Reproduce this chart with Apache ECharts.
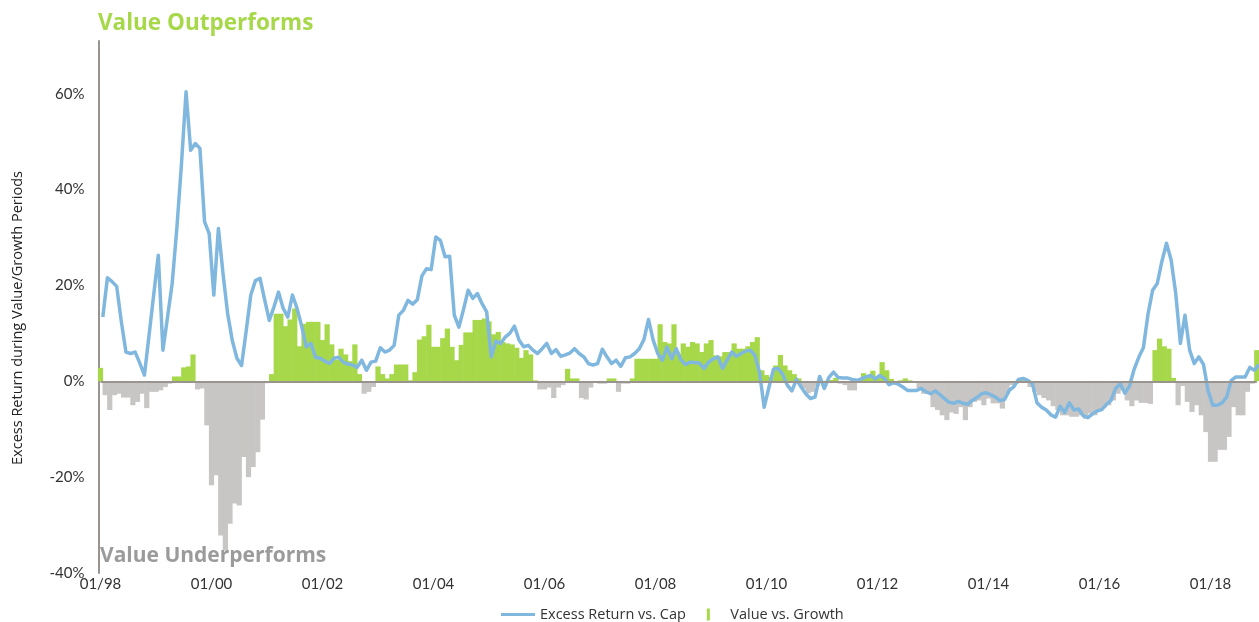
<!DOCTYPE html>
<html><head><meta charset="utf-8">
<script src="https://cdn.jsdelivr.net/npm/echarts@6/dist/echarts.min.js"></script>
<style>html,body{margin:0;padding:0;background:#fff;} #c{width:1259px;height:622px;}</style>
</head><body><div id="c"></div>
<script>
// ---- data ----
const startYear = 1998;
const monthCount = 251;           // 01/1998 .. 11/2018
const tickEvery = 24;             // label every two years
const yTickValues = [-40, -20, 0, 20, 40, 60];

// Value vs. Growth (bars), monthly, %
const valueVsGrowth = [
  2.8, -2.9, -6.0, -2.9, -2.6, -3.4, -3.4, -5.0, -4.3, -2.6, -5.6, -2.2,      // 1998
  -2.2, -1.9, -1.2, -0.5, 1.0, 1.0, 2.9, 3.1, 5.6, -1.7, -1.5, -9.2,          // 1999
  -21.7, -19.6, -32.2, -35.3, -29.7, -25.5, -25.9, -15.8, -20.0, -17.9, -14.8, -8.0, // 2000
  -0.4, 1.5, 14.1, 14.1, 11.5, 12.9, 15.2, 7.3, 12.0, 12.4, 12.4, 12.4,       // 2001
  8.6, 11.9, 7.7, 4.5, 6.8, 5.6, 4.2, 7.7, 1.5, -2.6, -2.2, -1.2,             // 2002
  3.1, 1.5, 0.6, 1.5, 3.5, 3.5, 3.5, 0.2, 1.9, 8.7, 9.4, 11.8,                // 2003
  7.2, 7.2, 9.0, 11.0, 7.2, 4.4, 7.6, 10.2, 10.2, 12.8, 12.8, 13.1,           // 2004
  12.5, 9.8, 10.3, 8.2, 7.9, 7.7, 7.0, 4.9, 6.5, 5.6, 0.2, -1.7,              // 2005
  -1.7, -1.3, -3.5, -1.3, -0.8, 2.6, 0.6, 0.6, -3.5, -3.8, -1.3, 0.0,         // 2006
  -0.5, -0.5, 0.6, 0.6, -2.2, -0.5, -0.5, 0.6, 4.7, 4.7, 4.7, 4.7,            // 2007
  4.7, 11.9, 8.2, 7.9, 11.9, 5.7, 7.9, 7.2, 8.2, 7.9, 6.1, 7.9,               // 2008
  8.6, 5.4, 5.2, 6.1, 6.1, 7.9, 6.8, 6.8, 7.3, 8.2, 9.2, 2.3,                 // 2009
  1.3, 0.9, 3.3, 5.5, 3.3, 2.3, 1.5, 0.6, -1.5, -2.5, -2.2, -1.0,             // 2010
  -0.3, -0.2, 0.3, 0.7, -0.5, -0.8, -1.9, -1.9, -0.3, 1.7, 0.9, 2.2,          // 2011
  1.0, 4.0, 2.3, 0.5, -0.3, 0.2, 0.6, 0.2, -0.3, -1.5, -2.6, -2.6,            // 2012
  -5.4, -6.0, -7.1, -8.1, -6.5, -6.8, -5.4, -8.1, -5.4, -4.3, -4.0, -5.0,     // 2013
  -3.6, -4.6, -4.6, -5.7, -2.6, -0.8, -0.5, 0.3, 0.1, -1.2, -2.2, -2.9,       // 2014
  -3.5, -4.0, -5.2, -6.0, -7.1, -7.1, -7.4, -7.4, -7.1, -7.8, -6.7, -7.1,     // 2015
  -6.0, -5.5, -5.0, -4.0, -2.6, -1.9, -4.0, -5.2, -4.0, -4.5, -4.5, -4.7,     // 2016
  6.5, 8.9, 7.3, 6.8, 0.7, -5.0, -1.0, -4.3, -6.4, -5.0, -7.1, -10.6,         // 2017
  -16.8, -16.8, -14.3, -14.3, -11.6, -5.4, -7.1, -7.1, -2.2, -0.5, 6.5        // 2018
];

// Excess Return vs. Cap (line), monthly, %
const excessReturn = [
  13.4, 21.6, 20.8, 19.8, 12.5, 6.1, 5.8, 6.1, 3.8, 1.3, 9.6, 18.0,           // 1998
  26.3, 6.5, 13.4, 20.4, 31.8, 45.2, 60.4, 48.2, 49.6, 48.6, 33.3, 30.8,      // 1999
  18.0, 31.9, 22.4, 14.1, 8.5, 4.8, 3.3, 10.5, 18.0, 21.0, 21.5, 17.0,        // 2000
  12.7, 15.5, 18.6, 15.2, 13.4, 18.0, 15.2, 11.5, 7.2, 7.9, 5.0, 4.8,         // 2001
  4.2, 3.7, 4.8, 5.0, 4.0, 3.6, 3.4, 2.9, 4.4, 2.3, 4.0, 4.2,                 // 2002
  7.0, 6.1, 6.5, 7.5, 13.8, 14.8, 16.9, 16.1, 17.0, 22.0, 23.5, 23.3,         // 2003
  30.1, 29.4, 26.0, 26.1, 13.8, 11.3, 15.0, 19.0, 17.3, 18.3, 16.2, 14.5,     // 2004
  5.1, 8.4, 7.9, 9.2, 10.0, 11.5, 8.6, 7.2, 7.5, 6.5, 5.8, 6.8,               // 2005
  7.9, 5.8, 6.6, 5.2, 5.5, 5.9, 6.8, 5.8, 5.1, 3.7, 3.4, 3.7,                 // 2006
  6.7, 5.1, 3.7, 4.4, 3.1, 4.9, 5.1, 5.8, 6.8, 8.7, 12.9, 8.6,                // 2007
  5.8, 4.4, 7.2, 4.7, 6.8, 4.5, 3.5, 4.0, 3.9, 3.8, 2.7, 4.0,                 // 2008
  4.7, 5.1, 2.7, 4.4, 6.1, 5.2, 5.8, 6.3, 6.5, 5.4, 1.9, -5.4,                // 2009
  -1.4, 2.5, 2.7, 1.5, -0.8, -2.0, 0.4, -1.2, -2.6, -3.6, -3.3, 1.0,          // 2010
  -1.5, 0.8, 1.9, 0.8, 0.7, 0.7, 0.4, 0.2, 0.5, 0.9, 1.2, 0.5,                // 2011
  1.2, 0.6, -0.7, -0.3, -0.6, -1.2, -1.9, -1.9, -1.9, -1.5, -2.2, -2.6,       // 2012
  -2.0, -2.8, -3.6, -4.4, -4.6, -4.2, -4.6, -4.8, -4.0, -3.4, -2.6, -2.4,     // 2013
  -2.8, -3.3, -4.0, -3.8, -1.9, -1.1, 0.4, 0.6, 0.2, -0.5, -4.5, -5.4,        // 2014
  -6.0, -7.0, -7.5, -5.2, -6.5, -4.5, -6.0, -5.8, -7.2, -7.6, -6.8, -6.2,     // 2015
  -5.9, -4.8, -4.0, -1.5, -0.5, -2.5, -1.0, 2.5, 5.0, 7.0, 14.0, 19.0,        // 2016
  20.4, 25.0, 28.8, 25.3, 18.3, 7.9, 13.8, 6.5, 3.7, 5.1, 3.5, -2.0,          // 2017
  -5.0, -5.0, -4.5, -3.3, 0.2, 0.9, 0.9, 0.9, 2.9, 2.3, 3.5                   // 2018
];

const categories = [];
for (let i = 0; i < monthCount; i++) {
  const m = (i % 12) + 1;
  const y = (startYear + Math.floor(i / 12)) % 100;
  categories.push(String(m).padStart(2, '0') + '/' + String(y).padStart(2, '0'));
}

// ---- style ----
const GREEN = '#a6d84a';
const GRAY = '#c8c6c4';
const BLUE = '#80b7df';
const AXIS = '#9a9490';
const FONT = 'Lato';
const FONT2 = '"Open Sans"';

const chart = echarts.init(document.getElementById('c'), null, {renderer: 'canvas'});
const gridBase = {top: 41, width: 1156.25, height: 532};

chart.setOption({
  animation: false,
  textStyle: {fontFamily: FONT},
  grid: [
    Object.assign({left: 100.5}, gridBase),
    Object.assign({left: 102.8}, gridBase)
  ],
  xAxis: [
    {
      type: 'category', data: categories, boundaryGap: false, gridIndex: 0,
      axisLine: {show: false}, axisTick: {show: false}, splitLine: {show: false},
      axisLabel: {
        interval: (idx) => idx % tickEvery === 0,
        fontSize: 15, color: '#333', margin: 4, fontFamily: FONT
      }
    },
    {type: 'category', data: categories, boundaryGap: false, gridIndex: 1, show: false}
  ],
  yAxis: [
    {
      type: 'value', min: -40, max: 71, interval: 20, gridIndex: 0, offset: 2,
      axisLine: {show: true, lineStyle: {color: AXIS, width: 2}},
      axisTick: {show: false}, splitLine: {show: false},
      axisLabel: {
        formatter: (v) => yTickValues.includes(v) ? v + '%' : '',
        fontSize: 15, color: '#333', margin: 14, fontFamily: FONT
      }
    },
    {type: 'value', min: -40, max: 71, gridIndex: 1, show: false}
  ],
  legend: {
    left: 496, top: 602, itemWidth: 34, itemHeight: 12, itemGap: 21,
    textStyle: {fontSize: 14.5, color: '#333', fontFamily: 'Open Sans'},
    data: [
      {name: 'Excess Return vs. Cap', icon: 'path://M0 0h34v3H0z', itemStyle: {color: BLUE}},
      {name: 'Value vs. Growth', icon: 'path://M0 0h3v12H0z', itemStyle: {color: GREEN}}
    ]
  },
  series: [
    {
      name: 'Value vs. Growth', type: 'bar', xAxisIndex: 0, yAxisIndex: 0,
      data: valueVsGrowth, barWidth: 5.2,
      itemStyle: {color: (p) => p.value >= 0 ? GREEN : GRAY},
      markLine: {
        silent: true, symbol: 'none', label: {show: false},
        lineStyle: {color: AXIS, width: 2, type: 'solid'},
        data: [{yAxis: 0}]
      },
      z: 2
    },
    {
      name: 'Excess Return vs. Cap', type: 'line', xAxisIndex: 1, yAxisIndex: 1,
      data: excessReturn, symbol: 'none', smooth: false,
      lineStyle: {color: BLUE, width: 3.5, join: 'round'},
      itemStyle: {color: BLUE},
      z: 4
    }
  ],
  graphic: [
    {type: 'text', left: 98, top: 12, z: 10,
     style: {text: 'Value Outperforms', fill: GREEN, font: 'bold 22.5px ' + FONT2}},
    {type: 'text', left: 100, top: 546, z: 10,
     style: {text: 'Value Underperforms', fill: '#9b9b9b', font: 'bold 21px ' + FONT2}},
    {type: 'text', x: 18, y: 318, rotation: Math.PI / 2, z: 10,
     style: {text: 'Excess Return during Value/Growth Periods', fill: '#222',
             font: '14.5px ' + FONT2, align: 'center', verticalAlign: 'middle',
             textAlign: 'center', textVerticalAlign: 'middle'}}
  ]
});
</script>
</body></html>
